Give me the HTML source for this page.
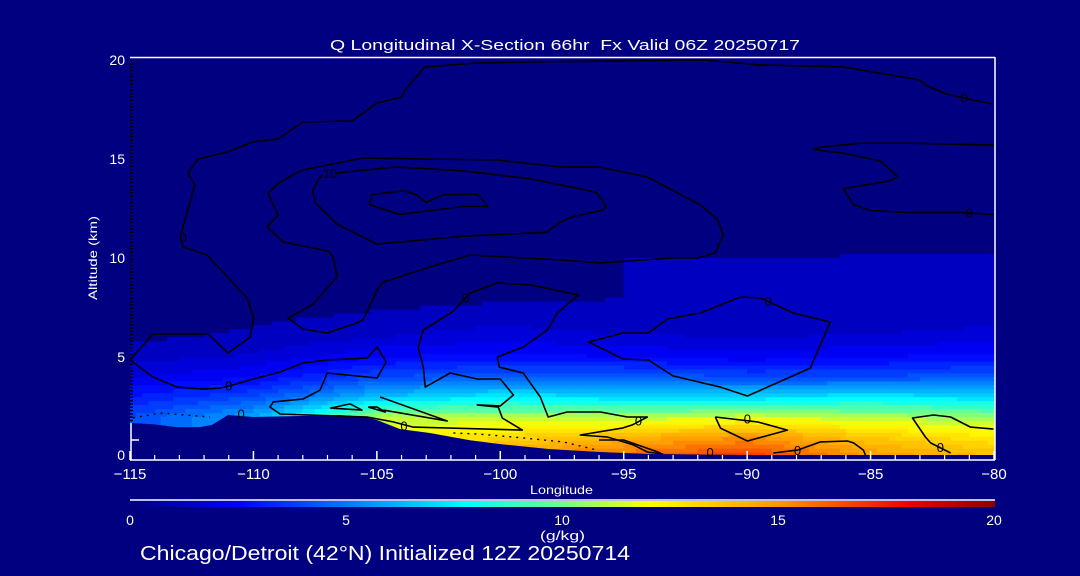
<!DOCTYPE html>
<html><head><meta charset="utf-8"><style>
html,body{margin:0;padding:0;background:#000080;}
svg{display:block;font-family:"Liberation Sans",sans-serif;}
</style></head><body>
<svg id="chart" width="1080" height="576" viewBox="0 0 1080 576" xmlns="http://www.w3.org/2000/svg">
<defs>
<linearGradient id="cbar" x1="0" x2="1" y1="0" y2="0">
<stop offset="0" stop-color="#000080"/><stop offset="0.125" stop-color="#0000ff"/>
<stop offset="0.39" stop-color="#00ffff"/><stop offset="0.5" stop-color="#6eff8c"/>
<stop offset="0.6" stop-color="#ffff00"/><stop offset="0.75" stop-color="#ff9600"/>
<stop offset="0.9" stop-color="#f00000"/><stop offset="1" stop-color="#8c0000"/>
</linearGradient>
<clipPath id="plotclip"><rect x="130" y="57" width="865" height="403"/></clipPath>
</defs>
<rect x="0" y="0" width="1080" height="576" fill="#000080"/>
<g id="field" clip-path="url(#plotclip)"></g>
<g id="terrain" clip-path="url(#plotclip)"></g>
<g id="contours" clip-path="url(#plotclip)"></g>
<g id="axes"></g>
<text x="330" y="50" font-size="15" fill="#fff" textLength="470" lengthAdjust="spacingAndGlyphs" xml:space="preserve">Q Longitudinal X-Section 66hr  Fx Valid 06Z 20250717</text>
<text x="530" y="494" font-size="12" fill="#fff" textLength="63" lengthAdjust="spacingAndGlyphs">Longitude</text>
<text transform="translate(97,300) rotate(-90)" font-size="12" fill="#fff" textLength="84" lengthAdjust="spacingAndGlyphs">Altitude (km)</text>
<line x1="130" y1="500" x2="995" y2="500" stroke="#fff" stroke-width="1.5"/>
<rect x="130" y="501" width="865" height="6" fill="url(#cbar)"/>
<g id="cbticks"></g>
<text x="540" y="540" font-size="13" fill="#fff" textLength="45" lengthAdjust="spacingAndGlyphs">(g/kg)</text>
<text x="140" y="560" font-size="20" fill="#fff" textLength="490" lengthAdjust="spacingAndGlyphs">Chicago/Detroit (42°N) Initialized 12Z 20250714</text>
</svg>
<script>
// ---- data ----
const gridLons = [-115,-110,-105,-100,-95,-90,-85,-80];
const gridAlts = [0,1,2,3,4,5,6,7,8,9,10,12];
const qRow0  = [3,4,6,15,16,17,15,14];
const qRow1  = [4,6,12,13,14,15,13.5,12.5];
const qRow2  = [4,6,11,11,11,11.5,11,10.5];
const qRow3  = [3,4,6.5,7.5,7,7,7.5,7];
const qRow4  = [2,2.5,4,4.5,4.5,4,4,4.5];
const qRow5  = [1.3,1.6,2.5,2.8,2.5,2.3,2.5,2.8];
const qRow6  = [0.9,1.1,1.5,1.8,1.6,1.5,1.6,1.8];
const qRow7  = [0.7,0.9,1.1,1.3,1.1,1.0,1.1,1.3];
const qRow8  = [0.5,0.6,0.8,0.9,1.0,1.0,1.05,1.1];
const qRow9  = [0.4,0.5,0.6,0.7,1.0,1.0,1.05,1.1];
const qRow10 = [0.3,0.4,0.5,0.6,1.0,1.0,1.05,1.05];
const qRow12 = [0.3,0.3,0.3,0.3,0.3,0.3,0.3,0.3];
const qGrid = [qRow0,qRow1,qRow2,qRow3,qRow4,qRow5,qRow6,qRow7,qRow8,qRow9,qRow10,qRow12];

const terrLon = [-115,-114.07,-113.1,-112.16,-111.68,-111.03,-110,-108.1,-106.5,-105.48,-105,-104.06,-102.85,-101.23,-100,-97.99,-95.96,-93.94,-90,-85.43,-80];
const terrAlt = [1.67,1.6,1.46,1.46,1.57,2.07,1.97,2.02,2.07,1.97,1.82,1.36,1.16,0.8,0.6,0.35,0.2,0.1,0.05,0.05,0.05];

const xTicks = [-115,-110,-105,-100,-95,-90,-85,-80];
const xTickLabels = ["\u2212115","\u2212110","\u2212105","\u2212100","\u221295","\u221290","\u221285","\u221280"];
const yTicks = [0,5,10,15,20];
const yTickLabels = ["0","5","10","15","20"];
const cbTicks = [0,5,10,15,20];
const cbTickLabels = ["0","5","10","15","20"];

const cA_lon = [-115,-114.07,-111.84,-111.03,-110.14,-109.98,-110.26,-111.88,-112.85,-112.97,-112.77,-112.49,-112.37,-112.65,-112.25,-111.07,-110.02,-109.01,-108,-106,-105,-103.98,-103.86,-103.05,-100.95,-98.8,-91.8,-89.48,-86.12,-83,-82.72,-81.91,-80.86,-80.05];
const cA_alt = [4.85,6.16,6.16,5.2,6.0,6.97,7.98,10.15,10.56,11.06,11.92,13.18,13.69,14.29,15.0,15.35,15.86,16.01,16.87,16.92,17.83,18.13,18.48,19.65,19.85,19.9,20,19.75,19.65,18.99,18.69,18.28,17.98,17.78];
const cB_lon = [-107.99,-108.6,-107.62,-106.61,-106.77,-106.97,-108.8,-109.45,-109.0,-109.41,-108.92,-108.03,-105.56,-103.12,-100.12,-97.57,-96.03,-94.04,-91.9,-91.21,-90.96,-91.29,-92.02,-92.99,-95.95,-97.57,-101.22,-102.84,-104.74,-104.99,-105.56,-105.8,-107.01,-107.99];
const cB_alt = [6.41,6.97,7.63,9.04,10.05,10.35,10.81,11.57,12.17,13.28,13.84,14.44,15.05,15.0,14.95,14.6,14.6,14.09,12.68,11.97,11.16,10.25,10.0,10.0,9.75,9.9,10.15,9.55,8.79,8.38,6.87,6.72,6.21,6.41];
const cC_lon = [-106.6,-104.2,-101.5,-98.8,-96.8,-96.1,-95.7,-95.9,-97.0,-97.6,-98.1,-101.5,-105.0,-106.6,-107.5,-107.6,-107.4,-107.2];
const cC_alt = [14.3,14.6,14.4,14.0,13.5,13.3,12.6,12.4,12.1,11.8,11.3,11.1,10.7,11.7,12.8,13.4,13.9,14.2];
const cD_lon = [-105.2,-103.9,-103.4,-103.0,-102.3,-100.9,-100.5,-101.5,-104.1,-105.3,-105.2];
const cD_alt = [13.2,13.4,13.2,12.8,13.2,13.2,12.6,12.6,12.2,12.7,13.2];
const cE_lon = [-80.0,-83.5,-85.4,-87.0,-87.3,-86.9,-86.1,-84.6,-83.9,-84.2,-86.1,-85.7,-85.0,-83.5,-81.4,-80.0];
const cE_alt = [15.7,15.8,15.8,15.6,15.5,15.4,15.3,14.9,14.1,13.9,13.5,12.7,12.4,12.3,12.3,12.2];
const cG_lon = [-115.0,-114.07,-113.09,-112.04,-111.35,-110.82,-110.01,-108.92,-107.99,-107.01,-105.39,-104.99,-104.62,-104.99,-107.01,-107.3,-107.99,-109.2,-109.33,-108.92,-105.39,-104.34,-103.53,-99.11,-99.92,-100.08,-100.93,-100.0,-99.47,-100.0,-100.93,-102.03,-103.04,-103.12,-103.33,-103.12,-101.95,-101.22,-100.12,-98.79,-96.84,-97.69,-98.1,-99.07,-100.12,-100.04,-99.07,-98.38,-98.06,-97.29,-95.95,-94.85,-94.04,-94.65,-95.06,-96.76,-95.66,-94.61,-94.04,-93.4];
const cG_alt = [4.85,3.99,3.48,3.38,3.43,3.59,3.89,4.24,4.7,4.85,4.95,5.5,4.75,3.94,4.19,3.33,2.88,2.73,2.47,2.12,1.97,1.72,1.46,1.31,1.92,2.47,2.58,2.53,3.08,3.89,3.89,4.19,3.48,4.49,5.5,6.36,7.27,8.23,8.74,8.64,8.13,7.22,6.36,5.5,5.0,4.49,4.19,2.98,1.97,2.22,2.22,1.97,1.97,1.57,1.41,1.06,0.96,0.56,0.2,0.1];
const cH_lon = [-86.63,-87.44,-89.99,-91.08,-92.99,-94.0,-95.02,-96.43,-95.02,-94.0,-93.23,-91.9,-90.27,-89.46,-88.94,-88.13,-86.63];
const cH_alt = [6.77,4.44,3.03,3.48,4.04,4.85,4.9,5.76,6.21,6.21,6.92,7.22,8.03,7.98,7.68,7.22,6.77];
const cI_lon = [-91.29,-89.58,-88.37,-89.99,-91.08,-91.29];
const cI_alt = [1.97,1.72,1.31,0.76,1.41,1.97];
const cK_lon = [-88.94,-87.96,-87.03,-85.94,-85.69,-85.29,-85.21];
const cK_alt = [0.15,0.3,0.71,0.76,0.66,0.3,0.05];
const cK0_lon = [-96.0,-95.0,-93.5];
const cK0_alt = [0.81,0.81,0.15];
const cL_lon = [-80.02,-80.95,-81.76,-82.45,-83.3,-82.78,-82.57,-81.76];
const cL_alt = [1.36,1.46,1.97,2.07,1.92,0.96,0.66,0.15];
const cM_lon = [-104.87,-102.15,-104.74];
const cM_alt = [2.98,1.77,2.32];
const cT1_lon = [-106.89,-106.08,-105.6,-106.89];
const cT1_alt = [2.42,2.63,2.32,2.42];
const cT2_lon = [-105.35,-104.99,-104.66,-105.35];
const cT2_alt = [2.47,2.47,2.22,2.47];
const dot1_lon = [-114.88,-113.78,-111.76];
const dot1_alt = [1.92,2.17,1.97];
const dot2_lon = [-101.9,-100.93,-99.47,-97.45,-96.08];
const dot2_alt = [1.16,1.11,0.96,0.71,0.3];
const labelLon = [-112.85,-81.2,-81.0,-101.4,-94.4,-89.14,-89.99,-87.96,-91.5,-82.17,-111.0,-110.5,-103.9];
const labelAlt = [11.06,18.1,12.3,8.0,1.8,7.83,1.9,0.3,0.2,0.45,3.55,2.15,1.55];
const labelText = ["0","0","0","0","0","0","0","0","0","0","0","0","0"];

// ---- scales ----
const X0=130, X1=994, LON0=-115, LON1=-80;
const Y0=456, PXKM=19.8;
function xs(lon){return X0+(lon-LON0)/(LON1-LON0)*(X1-X0);}
function ys(alt){return Y0-alt*PXKM;}
const NS="http://www.w3.org/2000/svg";
function mk(tag,attrs,parent){const e=document.createElementNS(NS,tag);for(const k in attrs)e.setAttribute(k,attrs[k]);parent.appendChild(e);return e;}

const cmStops=[[0,[0,0,128]],[2.5,[0,0,255]],[7.8,[0,255,255]],[10,[110,255,140]],[12,[255,255,0]],[15,[255,150,0]],[18,[240,0,0]],[20,[140,0,0]]];
function cmap(q){
  q=Math.max(0,Math.min(20,q));
  for(let i=1;i<cmStops.length;i++){
    if(q<=cmStops[i][0]){const a=cmStops[i-1],b=cmStops[i];const t=(q-a[0])/(b[0]-a[0]);
      const c=a[1].map((v,j)=>Math.round(v+(b[1][j]-v)*t));return `rgb(${c[0]},${c[1]},${c[2]})`;}
  }
  return "rgb(140,0,0)";
}
function interp1(arr,v){for(let i=1;i<arr.length;i++){if(v<=arr[i])return [i-1,(v-arr[i-1])/(arr[i]-arr[i-1])];}return [arr.length-2,1];}
function qAt(lon,alt){
  const [i,ti]=interp1(gridLons,lon),[j,tj]=interp1(gridAlts,alt);
  const a=qGrid[j][i],b=qGrid[j][i+1],c=qGrid[j+1][i],d=qGrid[j+1][i+1];
  return (a*(1-ti)+b*ti)*(1-tj)+(c*(1-ti)+d*ti)*tj;
}

// ---- field ----
const field=document.getElementById('field');
const dLon=0.25,dAlt=0.2;
for(let lon=LON0;lon<LON1-1e-9;lon+=dLon){
  for(let alt=-0.2;alt<12-1e-9;alt+=dAlt){
    const q=qAt(Math.min(lon+dLon/2,LON1),Math.max(0,alt+dAlt/2));
    const qq=Math.floor(q/0.5)*0.5+0.25;
    if(qq<0.8) continue;
    const r=mk('rect',{x:xs(lon).toFixed(2),y:ys(alt+dAlt).toFixed(2),width:(xs(lon+dLon)-xs(lon)+0.6).toFixed(2),height:(dAlt*PXKM+0.6).toFixed(2),fill:cmap(qq)},field);
    
    
  }
}

// ---- terrain ----
const terr=document.getElementById('terrain');
let tp=terrLon.map((l,i)=>xs(l).toFixed(1)+','+ys(terrAlt[i]).toFixed(1)).join(' ');
tp+=` ${xs(-80)},462 ${xs(-115)},462`;
const tpoly=mk('polygon',{points:tp,fill:'#000080'},terr);



// ---- contours ----
const cg=document.getElementById('contours');
function line(lons,alts,name,dash){
  const p=lons.map((l,i)=>xs(l).toFixed(1)+','+ys(alts[i]).toFixed(1)).join(' ');
  const e=mk('polyline',{points:p,fill:'none',stroke:'#000',"stroke-width":dash?1.4:1.6,"stroke-linejoin":"round"},cg);
  if(dash)e.setAttribute('stroke-dasharray','2 5');
  
  
}
line(cA_lon,cA_alt,'contour-outer');
line(cB_lon,cB_alt,'contour-upper-loop');
line(cC_lon,cC_alt,'contour-10');
line(cD_lon,cD_alt,'contour-core');
line(cE_lon,cE_alt,'contour-east-upper');
line(cG_lon,cG_alt,'contour-lower');
line(cH_lon,cH_alt,'contour-east-mid');
line(cI_lon,cI_alt,'contour-east-low');
line(cK_lon,cK_alt,'contour-surface-east');
line(cK0_lon,cK0_alt,'contour-surface-mid');
line(cL_lon,cL_alt,'contour-far-east');
line(cM_lon,cM_alt,'contour-small-a');
line(cT1_lon,cT1_alt,'contour-small-b');
line(cT2_lon,cT2_alt,'contour-small-c');
line(dot1_lon,dot1_alt,'dotted-contour-west',true);
line(dot2_lon,dot2_alt,'dotted-contour-mid',true);
labelLon.forEach((l,i)=>{
  const t=mk('text',{x:xs(l).toFixed(1),y:(ys(labelAlt[i])+5).toFixed(1),"font-size":13,fill:'#000',"text-anchor":"middle"},cg);
  t.textContent=labelText[i];
  
  
});
const l10=mk('text',{x:xs(-106.9),y:ys(14.3)+5,"font-size":13,fill:'#000',"text-anchor":"middle"},cg);
l10.textContent='10';



// ---- axes ----
const ax=document.getElementById('axes');
function axl(attrs,name){const e=mk('line',attrs,ax);return e;}
axl({x1:130,y1:57.5,x2:995,y2:57.5,stroke:'#fff','stroke-width':1.5},'top-frame');
axl({x1:995,y1:57,x2:995,y2:460,stroke:'#fff','stroke-width':1.5},'right-frame');
axl({x1:130,y1:460,x2:995,y2:460,stroke:'#fff','stroke-width':1.5},'x-axis-line');
axl({x1:131.5,y1:60,x2:131.5,y2:423,stroke:'#000','stroke-width':3,'stroke-dasharray':'1.5 1.8'},'y-axis-dotted');
axl({x1:131,y1:423,x2:131,y2:460,stroke:'#fff','stroke-width':1.5},'y-axis-lower');
axl({x1:131,y1:440,x2:139,y2:440,stroke:'#fff','stroke-width':1.5},'y-axis-tick');
for(let lon=-114;lon<-80;lon++){
  if(lon%5===0)continue;
  axl({x1:xs(lon),y1:455,x2:xs(lon),y2:460,stroke:'#fff','stroke-width':1.2},'x-minor-tick');
}
xTicks.forEach((v,i)=>{
  axl({x1:xs(v),y1:451,x2:xs(v),y2:460,stroke:'#fff','stroke-width':1.5},'x-major-tick');
  const t=mk('text',{x:xs(v),y:479,"font-size":15,fill:'#fff',"text-anchor":"middle"},ax);
  t.textContent=xTickLabels[i];
  
  
});
yTicks.forEach((v,i)=>{
  const t=mk('text',{x:125,y:ys(v)+(v===0?4:5),"font-size":14,fill:'#fff',"text-anchor":"end"},ax);
  t.textContent=yTickLabels[i];
  
  
});
const cbg=document.getElementById('cbticks');
cbTicks.forEach((v,i)=>{
  const t=mk('text',{x:130+v/20*864,y:525,"font-size":14,fill:'#fff',"text-anchor":"middle"},cbg);
  t.textContent=cbTickLabels[i];
  
  
});
</script>
</body></html>
